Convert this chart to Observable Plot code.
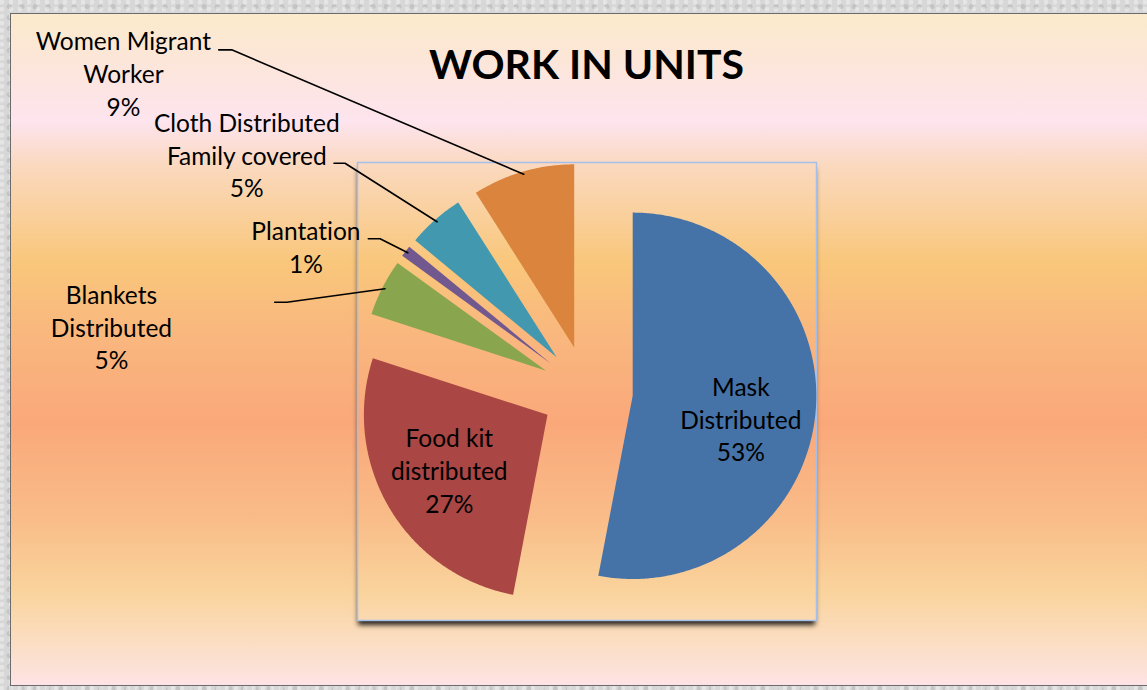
<!DOCTYPE html>
<html>
<head>
<meta charset="utf-8">
<script src="https://cdn.jsdelivr.net/npm/d3@7"></script>
<script src="https://cdn.jsdelivr.net/npm/@observablehq/plot@0.6"></script>
<style>
  html, body { margin: 0; padding: 0; }
  body {
    width: 1147px; height: 690px; overflow: hidden; position: relative;
    background-color: #d7d7d7;
    background-image:
      radial-gradient(circle at 20% 30%, rgba(255,255,255,0.35) 0 2px, transparent 3px),
      radial-gradient(circle at 70% 60%, rgba(160,160,160,0.35) 0 2px, transparent 3px);
    background-size: 9px 7px, 13px 11px;
    font-family: Lato, "Open Sans", sans-serif;
  }
  #frame {
    position: absolute; left: 10px; top: 13px; width: 1160px; height: 673px;
    box-sizing: border-box; border: 1.5px solid #6b6b6b;
    background: linear-gradient(to bottom,
      #FBEACB 0%, #FCE6D9 7%, #FDE4EE 16%, #FAD8BC 23%, #F9C77B 37%,
      #F9B87E 47%, #FAA87A 61%, #F9BC88 75%, #FAD39C 86%, #FBDDBF 93%, #FDE3E5 100%);
  }
  #shadow {
    position: absolute; left: 357px; top: 162px; width: 459px; height: 458px;
    box-shadow: 0 6px 5px -1px rgba(0,0,0,0.85);
  }
  #chart { position: absolute; left: 0; top: 0; }
  #chart text { font-variant-ligatures: none; font-feature-settings: "liga" 0, "clig" 0; }
  #title {
    position: absolute; left: 0; top: 43px; width: 1173px; text-align: center;
    font: bold 41px/41px Lato, "Open Sans", sans-serif; color: #000;
    font-variant-ligatures: none;
  }
</style>
</head>
<body>
<div id="frame"></div>
<div id="shadow"></div>
<div id="chart"></div>
<div id="title">WORK IN UNITS</div>
<script>
// ---- data ----
const categories = [
  "Mask Distributed",
  "Food kit distributed",
  "Blankets Distributed",
  "Plantation",
  "Cloth Distributed Family covered",
  "Women Migrant Worker"
];
const values = [53, 27, 5, 1, 5, 9]; // percent of units
const labelNames = [
  "Mask\nDistributed",
  "Food kit\ndistributed",
  "Blankets\nDistributed",
  "Plantation",
  "Cloth Distributed\nFamily covered",
  "Women Migrant\nWorker"
];

// ---- style / layout (not data) ----
const colors = ["#4572A7", "#AA4643", "#89A54E", "#71588F", "#4198AF", "#DB843D"];
const EXPLODE = 0.25; // offset of every slice, as a fraction of the radius
// label block centres, in radius units relative to pie centre
const labelLayout = [
  {x: 0.838, y: -0.147},
  {x: -0.750, y: -0.426},
  {x: -2.590, y: 0.355},
  {x: -1.531, y: 0.794},
  {x: -1.853, y: 1.294},
  {x: -2.525, y: 1.741}
];
// leader line elbows (null = label inside slice)
const leaderLayout = [
  null,
  null,
  {x: -1.635, y: 0.487, tail: 0.066},
  {x: -1.127, y: 0.834, tail: 0.064},
  {x: -1.318, y: 1.246, tail: 0.060},
  {x: -1.935, y: 1.865, tail: 0.071}
];

// ---- geometry derived from data ----
const total = d3.sum(values);
let acc = 0;
const slices = categories.map((c, i) => {
  const a0 = acc / total * 2 * Math.PI;
  acc += values[i];
  const a1 = acc / total * 2 * Math.PI;
  const mid = (a0 + a1) / 2;
  return {cat: c, value: values[i], a0, a1, mid,
          ox: EXPLODE * Math.sin(mid), oy: EXPLODE * Math.cos(mid)};
});

const wedgePts = slices.flatMap(s => {
  const pts = [{cat: s.cat, x: s.ox, y: s.oy}];
  const n = Math.max(2, Math.ceil((s.a1 - s.a0) / (Math.PI / 360)));
  for (let k = 0; k <= n; k++) {
    const a = s.a0 + (s.a1 - s.a0) * k / n;
    pts.push({cat: s.cat, x: s.ox + Math.sin(a), y: s.oy + Math.cos(a)});
  }
  pts.push({cat: s.cat, x: s.ox, y: s.oy});
  return pts;
});

const leaderPts = slices.flatMap((s, i) => {
  const L = leaderLayout[i];
  if (!L) return [];
  const r = 0.985;
  return [
    {cat: s.cat, x: s.ox + r * Math.sin(s.mid), y: s.oy + r * Math.cos(s.mid)},
    {cat: s.cat, x: L.x, y: L.y},
    {cat: s.cat, x: L.x - L.tail, y: L.y}
  ];
});

const fmt = d3.format(".0%");
const labels = slices.map((s, i) => ({
  cat: s.cat,
  x: labelLayout[i].x,
  y: labelLayout[i].y,
  text: labelNames[i] + "\n" + fmt(s.value / total)
}));

const chart = Plot.plot({
  width: 1147,
  height: 690,
  marginLeft: 357,
  marginRight: 331,
  marginTop: 162,
  marginBottom: 70,
  x: {domain: [-1.25, 1.25], axis: null},
  y: {domain: [-1.25, 1.25], axis: null},
  color: {domain: categories, range: colors},
  style: {background: "transparent", fontFamily: "Lato, 'Open Sans', sans-serif", overflow: "visible"},
  marks: [
    Plot.frame({stroke: "#A3BFEA", strokeWidth: 1.5}),
    Plot.line(wedgePts, {x: "x", y: "y", z: "cat", fill: "cat", stroke: "none"}),
    Plot.line(leaderPts, {x: "x", y: "y", z: "cat", stroke: "#000", strokeWidth: 1.6}),
    Plot.text(labels, {x: "x", y: "y", text: "text", fontSize: 24.5, lineHeight: 1.33, fill: "#000", textAnchor: "middle"})
  ]
});
document.getElementById("chart").appendChild(chart);
</script>
</body>
</html>
